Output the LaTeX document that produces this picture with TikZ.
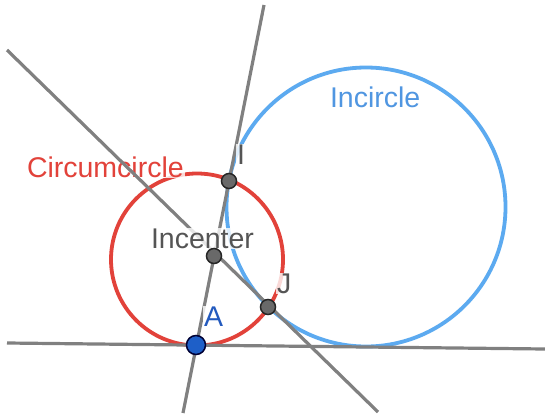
\documentclass[tikz,border=0pt]{standalone}
\usepackage{fontspec}
\setmainfont{Liberation Sans}
\begin{document}
\begin{tikzpicture}[x=1pt,y=-1pt,
  gline/.style={draw=lgray,line width=3.2pt},
  redcirc/.style={draw=cred,line width=3.8pt},
  bluecirc/.style={draw=cblue,line width=3.8pt},
  lbl/.style={inner sep=0.8pt,anchor=base west,font=\fontsize{28.5}{32}\selectfont},
  lblbg/.style={lbl,fill=white,fill opacity=0.8,text opacity=1},
  gpt/.style={circle,draw=black!85,line width=1.5pt,fill=pgray,minimum size=15pt,inner sep=0pt},
  apt/.style={circle,draw=black!80!blue,line width=1.5pt,fill=ablue,minimum size=19pt,inner sep=0pt}]
\definecolor{lgray}{RGB}{128,128,128}
\definecolor{cred}{RGB}{226,66,58}
\definecolor{cblue}{RGB}{92,170,240}
\definecolor{tblue}{RGB}{80,150,225}
\definecolor{tgray}{RGB}{85,85,85}
\definecolor{pgray}{RGB}{105,105,105}
\definecolor{ablue}{RGB}{30,95,200}
\definecolor{ltblue}{RGB}{35,90,190}
\useasboundingbox (0,0) rectangle (545,415);
\fill[white] (0,0) rectangle (545,415);
% coordinates
\coordinate (Oin) at (366,207);
\coordinate (Ocirc) at (197,259.5);
\coordinate (H1) at (7,343);
\coordinate (H2) at (545,349);
\coordinate (S1) at (264,5);
\coordinate (S2) at (183,413);
\coordinate (D1) at (7,50);
\coordinate (D2) at (378,412);
% incircle
\draw[bluecirc] (Oin) circle[radius=139.5];
\node[lbl,text=tblue] (tin) at (329,107) {Incircle};
% circumcircle
\draw[redcirc] (Ocirc) circle[radius=86];
\node[lblbg,text=cred] (tcirc) at (26,177) {Circumcircle};
% lines
\draw[gline] (H1) -- (H2);
\draw[gline] (S1) -- (S2);
\draw[gline] (D1) -- (D2);
% point labels
\node[lblbg,text=tgray] (tI) at (236,164) {I};
\node[lblbg,text=tgray] (tJ) at (276,293) {J};
\node[lblbg,text=ltblue] (tA) at (203,326) {A};
\node[lblbg,text=tgray] (tInc) at (150,248) {Incenter};
% points
\node[gpt] (I) at (229,181) {};
\node[gpt] (Inc) at (214,256) {};
\node[gpt] (J) at (268,307) {};
\node[apt] (A) at (196,345) {};
\end{tikzpicture}
\end{document}
